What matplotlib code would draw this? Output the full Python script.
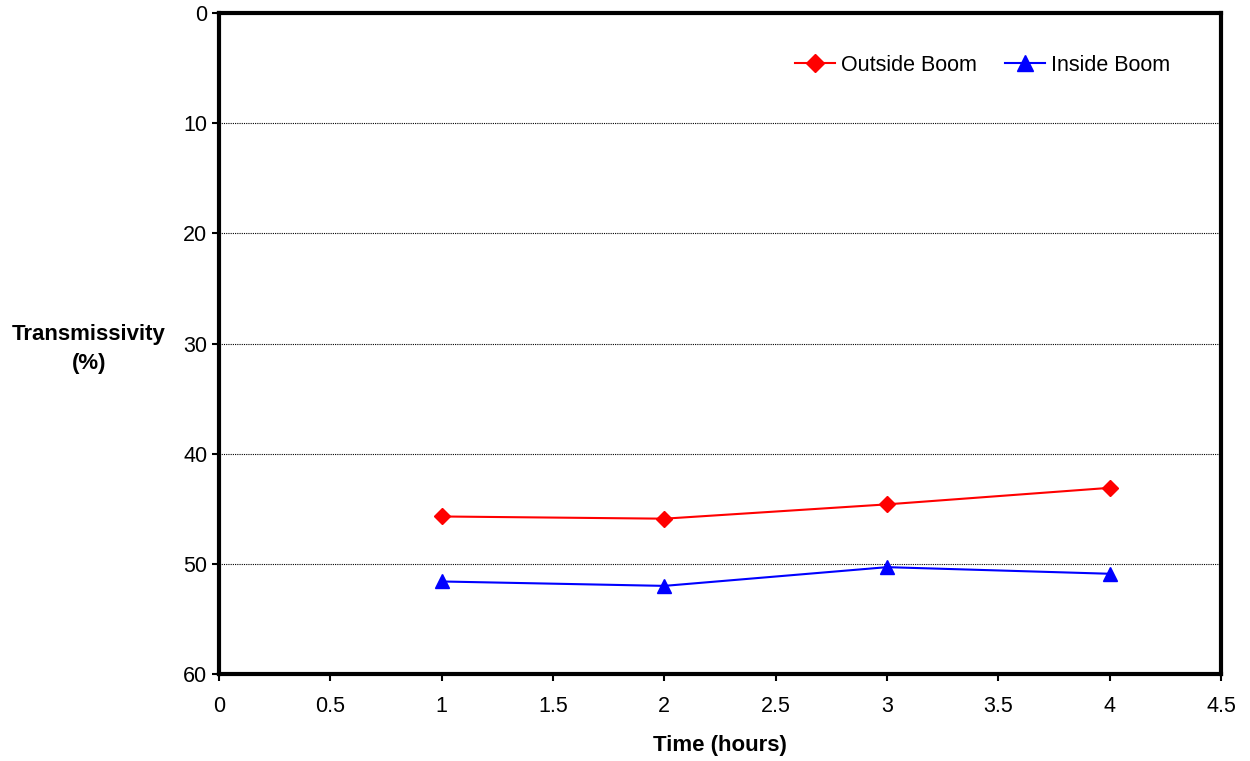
import matplotlib.pyplot as plt

plt.rcParams['font.family'] = ['Liberation Sans', 'DejaVu Sans']

hours = [1, 2, 3, 4]
outside_boom = [45.7, 45.9, 44.6, 43.1]
inside_boom = [51.6, 52.0, 50.3, 50.9]
x_ticks = [0, 0.5, 1, 1.5, 2, 2.5, 3, 3.5, 4, 4.5]
y_ticks = [0, 10, 20, 30, 40, 50, 60]

fig = plt.figure(figsize=(12.5, 7.61), dpi=100)
ax = fig.add_axes([0.1752, 0.1143, 0.8016, 0.8686])

ax.plot(hours, outside_boom, color='red', marker='D', markersize=8.5,
        linewidth=1.5, label='Outside Boom')
ax.plot(hours, inside_boom, color='blue', marker='^', markersize=10,
        linewidth=1.5, label='Inside Boom')

ax.set_xlim(0, 4.5)
ax.set_ylim(60, 0)
ax.set_xticks(x_ticks)
ax.set_xticklabels(['0', '0.5', '1', '1.5', '2', '2.5', '3', '3.5', '4', '4.5'])
ax.set_yticks(y_ticks)

for y in y_ticks[1:-1]:
    ax.axhline(y, color='black', linewidth=0.8, linestyle=(0, (1, 1)), zorder=0)

for s in ax.spines.values():
    s.set_linewidth(3)
ax.tick_params(axis='both', labelsize=15.5, width=1.5, length=5, direction='out')
ax.tick_params(axis='x', pad=11)

ax.set_xlabel('Time (hours)', fontsize=16, fontweight='bold', labelpad=13)
fig.text(0.071, 0.541, 'Transmissivity\n(%)', fontsize=16, fontweight='bold',
         ha='center', va='center', linespacing=1.5)

ax.legend(loc='upper right', ncol=2, frameon=False, fontsize=15.5,
          bbox_to_anchor=(0.969, 0.966), handlelength=1.85, columnspacing=1.3,
          handletextpad=0.3, markerscale=1.1)

plt.savefig('out.png', dpi=100)
